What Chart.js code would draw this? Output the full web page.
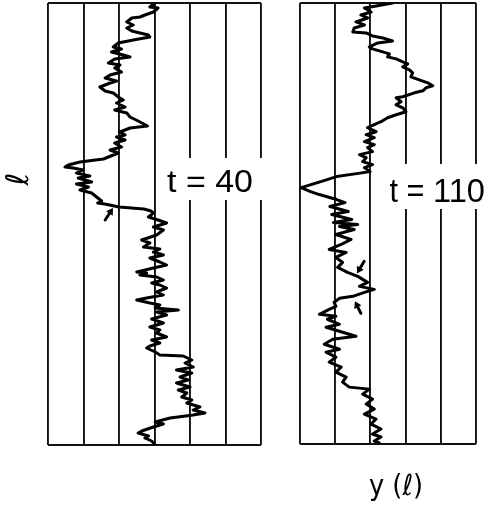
<!DOCTYPE html>
<html>
<head>
<meta charset="utf-8">
<script src="https://cdn.jsdelivr.net/npm/chart.js@4.4.1/dist/chart.umd.min.js"></script>
<style>
  html, body { margin: 0; padding: 0; background: #fff; }
  body { width: 485px; height: 506px; position: relative; overflow: hidden; }
  canvas { position: absolute; top: 0; }
  #left { left: 0; }
  #right { left: 270px; }
</style>
</head>
<body>
<canvas id="left" width="270" height="506"></canvas>
<canvas id="right" width="215" height="506"></canvas>
<script>
// Interface profile y(ℓ) at two times; ℓ runs down the panel, y across it.
const ellT40 = [0,4,5,9,12,14,15,19,22,25,28,30,32,34,37,40,44,46,49,52,54,56,60,62,65,69,72,75,78,80,
  84,88,90,94,97,100,104,107,110,114,118,123,125,129,132,134,137,140,144,147,150,154,156,159,162,164,165,167,170,173,
  175,179,181,184,187,190,194,198,200,201,204,206,208,210,214,217,220,224,227,232,237,240,244,246,249,252,255,259,262,265,
  269,270,272,274,277,280,282,285,289,292,295,297,300,302,305,307,309,312,316,320,324,327,330,334,337,340,343,345,349,352,
  353,357,360,364,367,370,374,377,380,384,387,390,394,397,400,404,407,410,412,415,419,421,424,428,430,433,435,438,440,442];
const yT40 = [3.01,2.87,3.10,2.97,2.73,2.59,2.36,2.22,2.40,2.22,2.36,2.59,2.83,2.87,2.40,1.98,1.84,2.07,1.79,2.12,2.31,1.88,1.70,2.03,1.88,2.07,1.75,1.61,1.93,1.75,
  1.46,1.61,1.84,1.98,2.12,1.93,2.17,1.88,2.22,2.31,2.54,2.80,2.31,2.03,2.17,1.93,2.17,1.88,2.07,1.75,1.98,1.70,1.56,0.90,0.57,0.48,0.71,0.99,0.80,1.18,
  0.85,1.23,0.80,1.14,0.90,1.23,1.37,1.51,1.40,1.60,2.00,2.70,2.90,2.97,2.83,3.10,3.34,2.97,3.25,3.06,2.64,2.87,2.69,3.15,2.97,3.25,2.87,3.15,3.34,2.97,
  2.50,2.78,2.59,3.06,3.25,2.92,3.15,3.34,3.06,3.25,2.78,2.50,2.87,3.15,3.02,3.67,3.06,3.34,2.92,3.25,2.87,3.15,3.06,3.34,2.92,3.15,2.87,2.78,3.02,3.15,
  3.81,4.05,3.86,4.09,3.62,4.05,3.72,3.95,3.62,4.00,3.67,3.91,3.77,4.05,3.91,4.28,4.09,4.42,4.09,3.44,3.02,3.25,2.97,2.64,2.54,2.83,2.73,2.92,2.97,3.02];

const ellT110 = [0,3,5,9,12,15,19,22,25,29,30,33,35,38,40,44,46,49,51,54,56,59,61,64,67,70,74,77,80,83,
  85,88,90,94,95,99,102,105,109,112,115,119,122,125,129,132,135,139,142,145,149,152,155,159,162,165,169,171,174,180,
  185,189,192,197,200,204,209,212,217,220,222,224,227,232,237,242,247,250,255,260,265,270,274,277,280,284,287,290,294,296,
  300,304,307,312,314,317,322,325,330,334,337,342,347,350,355,360,365,370,375,380,385,387,392,397,402,407,412,417,422,427,
  432,435,439,441];
const yT110 = [2.63,2.16,1.83,2.02,1.73,1.92,1.59,1.83,1.54,1.50,1.88,2.06,2.35,2.63,2.21,1.97,2.06,2.35,2.54,2.49,2.73,2.92,3.06,2.92,3.11,3.20,3.15,3.39,3.63,3.77,
  3.58,3.49,3.25,2.92,2.73,2.87,2.73,2.92,3.01,2.73,2.49,2.30,2.11,1.92,2.16,1.88,2.11,1.83,2.11,1.92,2.06,1.69,1.88,1.78,2.06,1.83,1.99,1.61,1.04,0.50,
  0.03,0.30,0.55,1.04,1.28,0.85,1.37,0.90,1.47,0.95,1.64,1.12,1.54,1.02,1.45,1.17,0.83,1.31,1.02,1.21,1.07,1.35,1.64,1.78,1.92,1.69,2.11,1.83,1.50,1.12,
  0.97,1.02,0.83,0.55,1.02,0.78,1.12,0.74,1.21,1.59,0.93,0.69,1.12,0.74,1.02,0.83,1.17,1.02,1.31,1.21,1.40,1.97,1.78,2.06,1.88,2.11,1.83,2.16,2.02,2.30,
  2.06,2.30,2.11,2.25];

// Marker arrows: [y tail, ℓ tail, y head, ℓ head]
const arrowsT40 = [[1.61, 217, 1.83, 205]];
const arrowsT110 = [[1.82, 259, 1.62, 271], [1.73, 311, 1.56, 299]];

const ELL_MAX = 442;

function points(ell, y) {
  return ell.map((l, i) => ({ x: y[i], y: l }));
}

function drawText(ctx, text, cx, baseline, font, width, angle) {
  ctx.save();
  ctx.font = font;
  ctx.fillStyle = '#000';
  ctx.textAlign = 'center';
  ctx.textBaseline = 'alphabetic';
  ctx.translate(cx, baseline);
  if (angle) ctx.rotate(angle);
  const w = ctx.measureText(text).width;
  if (width) ctx.scale(width / w, 1);
  ctx.fillText(text, 0, 0);
  ctx.restore();
}

function arrowPlugin(arrows) {
  return {
    id: 'arrows',
    afterDatasetsDraw(chart) {
      const { ctx, scales: { x, y } } = chart;
      ctx.save();
      ctx.strokeStyle = '#000';
      ctx.fillStyle = '#000';
      ctx.lineWidth = 3;
      ctx.lineCap = 'round';
      arrows.forEach(([v0, l0, v1, l1]) => {
        const x0 = x.getPixelForValue(v0), y0 = y.getPixelForValue(l0);
        const x1 = x.getPixelForValue(v1), y1 = y.getPixelForValue(l1);
        const a = Math.atan2(y1 - y0, x1 - x0);
        const hl = 6.5, hw = 4;
        const bx = x1 - hl * Math.cos(a), by = y1 - hl * Math.sin(a);
        ctx.beginPath();
        ctx.moveTo(x0, y0);
        ctx.lineTo(bx, by);
        ctx.stroke();
        ctx.beginPath();
        ctx.moveTo(x1, y1);
        ctx.lineTo(bx + hw * Math.sin(a), by - hw * Math.cos(a));
        ctx.lineTo(bx - hw * Math.sin(a), by + hw * Math.cos(a));
        ctx.closePath();
        ctx.fill();
      });
      ctx.restore();
    }
  };
}

function labelPlugin(draw) {
  return { id: 'labels', afterDraw(chart) { draw(chart.ctx); } };
}

function panel(canvasId, ell, y, columns, arrows, padding, labels) {
  return new Chart(document.getElementById(canvasId), {
    type: 'scatter',
    data: {
      datasets: [{
        data: points(ell, y),
        showLine: true,
        borderColor: '#000',
        borderWidth: 3,
        pointRadius: 0,
        tension: 0,
        borderJoinStyle: 'round',
        borderCapStyle: 'round'
      }]
    },
    options: {
      responsive: false,
      animation: false,
      events: [],
      layout: { padding },
      plugins: { legend: { display: false }, tooltip: { enabled: false } },
      scales: {
        x: {
          type: 'linear', min: 0, max: columns,
          ticks: { display: false, stepSize: 1 },
          grid: { color: '#111', lineWidth: 1.9, drawTicks: false },
          border: { display: false }
        },
        y: {
          type: 'linear', min: 0, max: ELL_MAX, reverse: true,
          ticks: { display: false },
          afterBuildTicks: s => { s.ticks = [{ value: 0 }, { value: ELL_MAX }]; },
          grid: { color: '#111', lineWidth: 1.9, drawTicks: false },
          border: { display: false }
        }
      }
    },
    plugins: [arrowPlugin(arrows), labelPlugin(labels)]
  });
}

panel('left', ellT40, yT40, 6, arrowsT40, { left: 48, top: 3, right: 9, bottom: 61 }, ctx => {
  ctx.fillStyle = '#fff';
  ctx.fillRect(158, 158, 104, 42);
  drawText(ctx, 't = 40', 210, 192, '31px "Liberation Sans"', 86, 0);
  drawText(ctx, 'ℓ', 28, 179, '31px "DejaVu Sans"', 0, -Math.PI / 2);
});

panel('right', ellT110, yT110, 5, arrowsT110, { left: 30, top: 3, right: 9, bottom: 62 }, ctx => {
  ctx.fillStyle = '#fff';
  ctx.fillRect(114, 164, 101, 45);
  drawText(ctx, 't =', 137, 202, '34px "Liberation Sans"', 35, 0);
  drawText(ctx, '110', 189, 202, '34px "Liberation Sans"', 52, 0);
  drawText(ctx, 'y (ℓ)', 126, 495, '29px "DejaVu Sans"', 54, 0);
});
</script>
</body>
</html>
